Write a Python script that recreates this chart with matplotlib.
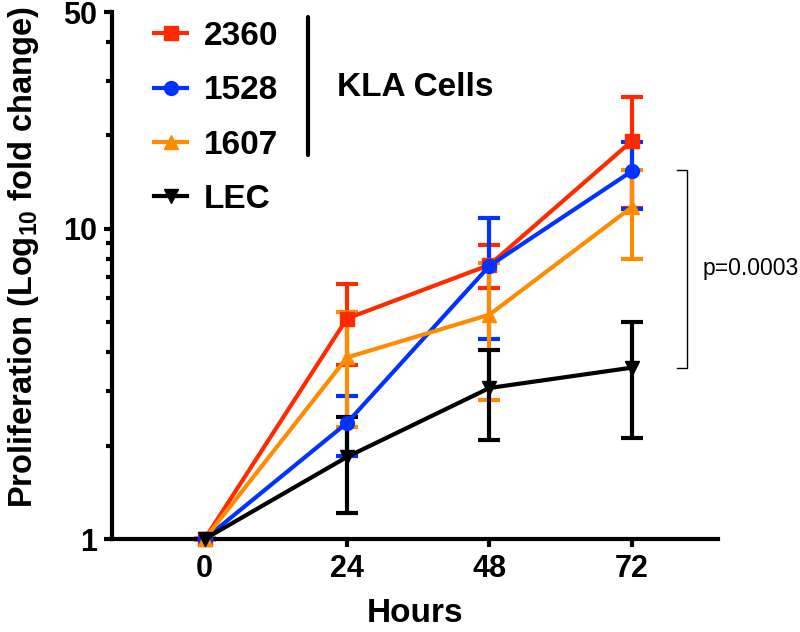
import numpy as np
import matplotlib
matplotlib.use("Agg")
import matplotlib.pyplot as plt
from matplotlib.lines import Line2D
from matplotlib.ticker import FixedLocator, FixedFormatter, NullFormatter

plt.rcParams['font.family'] = ['Liberation Sans', 'DejaVu Sans']
plt.rcParams['mathtext.fontset'] = 'custom'
plt.rcParams['mathtext.bf'] = 'Liberation Sans:bold'
plt.rcParams['mathtext.rm'] = 'Liberation Sans:bold'
plt.rcParams['mathtext.default'] = 'bf'

hours = [0, 24, 48, 72]
names = ["2360", "1528", "1607", "LEC"]
means = {
    "2360": [1.0, 5.14, 7.65, 19.2],
    "1528": [1.0, 2.37, 7.6, 15.35],
    "1607": [1.0, 3.85, 5.29, 11.75],
    "LEC":  [1.0, 1.84, 3.07, 3.57],
}
errs = {
    "2360": [0.0, 1.5, 1.2, 7.5],
    "1528": [0.0, 0.52, 3.2, 3.75],
    "1607": [0.0, 1.56, 2.49, 3.75],
    "LEC":  [0.0, 0.63, 0.99, 1.45],
}
colors = {"2360": "#ff2a00", "1528": "#0033ff", "1607": "#ff8c00", "LEC": "#000000"}
markers = {"2360": "s", "1528": "o", "1607": "^", "LEC": "v"}
p_text = "p=0.0003"

fig = plt.figure(figsize=(8, 6.32), dpi=100)
ax = fig.add_axes([0.14, 0.147, 0.7575, 0.834])

handles = []
for n in names:
    ax.errorbar(hours, means[n], yerr=errs[n], color=colors[n], marker=markers[n],
                markersize=10, linewidth=3, elinewidth=3, capsize=8, capthick=3,
                clip_on=False, zorder=3)
    handles.append(Line2D([], [], color=colors[n], marker=markers[n],
                          markersize=10, linewidth=3, label=n))

ax.set_yscale('log')
ax.set_ylim(1, 50)
ax.set_xlim(-15.6, 86.5)
ax.yaxis.set_major_locator(FixedLocator([1, 10, 50]))
ax.yaxis.set_major_formatter(FixedFormatter(["1", "10", "50"]))
ax.yaxis.set_minor_locator(FixedLocator([2, 3, 4, 5, 6, 7, 8, 9, 20, 30, 40]))
ax.yaxis.set_minor_formatter(NullFormatter())
ax.set_xticks(hours)

for s in ['top', 'right']:
    ax.spines[s].set_visible(False)
for s in ['left', 'bottom']:
    ax.spines[s].set_linewidth(3)
ax.tick_params(axis='both', which='major', width=3, length=6, labelsize=22, pad=5)
ax.tick_params(axis='y', which='minor', width=3, length=4)
for lab in ax.get_xticklabels() + ax.get_yticklabels():
    lab.set_fontweight('bold')

ax.set_xlabel("Hours", fontsize=24, fontweight='bold', labelpad=10)
ax.set_ylabel("Proliferation (Log$_{10}$ fold change)", fontsize=23.5, fontweight='bold')
ax.yaxis.set_label_coords(-0.117, 0.535)

leg = ax.legend(handles=handles, loc='upper left', bbox_to_anchor=(0.02, 1.04),
                frameon=False, prop={'size': 24, 'weight': 'bold'}, handlelength=1.0,
                labelspacing=0.7, handletextpad=0.5)

# group line and label for KLA cells
ax.plot([0.323, 0.323], [0.729, 0.99], transform=ax.transAxes, color='black',
        linewidth=3, solid_capstyle='round', clip_on=False)
ax.text(0.371, 0.856, "KLA Cells", transform=ax.transAxes, fontsize=24,
        fontweight='bold', va='center', ha='left')

# significance bracket at 72 h: orange upper error to LEC mean
top = means["1607"][3] + errs["1607"][3]
bot = means["LEC"][3]
bx = 81.3
ax.plot([bx - 1.7, bx, bx, bx - 1.7], [top, top, bot, bot], color='black',
        linewidth=1, clip_on=False)
ax.text(bx + 2.6, np.sqrt(top * bot), p_text, fontsize=16.5, fontweight='normal',
        va='center', ha='left')

fig.savefig("out.png", dpi=100)
